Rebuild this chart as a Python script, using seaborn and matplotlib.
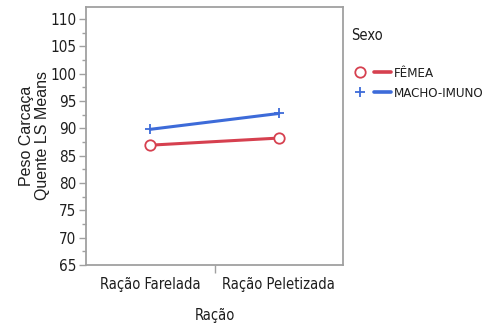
import pandas as pd
import numpy as np
import matplotlib
matplotlib.use('Agg')
import matplotlib.pyplot as plt
from matplotlib.lines import Line2D
from matplotlib.legend_handler import HandlerTuple
from matplotlib.ticker import MultipleLocator
import seaborn as sns

# data
racao = ['Ração Farelada', 'Ração Peletizada']
femea = [86.9, 88.2]
macho = [89.8, 92.7]
sexo = ['FÊMEA', 'MACHO-IMUNO']
cores = ['#d6404f', '#3d6bd9']

df = pd.DataFrame({
    'Ração': racao * 2,
    'LS': femea + macho,
    'Sexo': [sexo[0]] * 2 + [sexo[1]] * 2,
})

sns.set_theme(style='white')
plt.rcParams['font.family'] = ['DejaVu Sans']
plt.rcParams['font.stretch'] = 'condensed'
grey = '#a0a0a0'
ink = '#1e1e1e'

fig = plt.figure(figsize=(4.86, 3.29), dpi=100)
ax = fig.add_axes([0.177, 0.195, 0.529, 0.784])

sns.pointplot(data=df, x='Ração', y='LS', hue='Sexo', palette=cores,
              markers=['o', '+'], linestyles='-', errorbar=None,
              ax=ax, legend=False)
for ln in ax.lines:
    ln.set_linewidth(2.2)
    ln.set_markersize(7.5)
    ln.set_markeredgewidth(1.3)
    ln.set_markerfacecolor('white')

ax.set_xlim(-0.5, 1.5)
ax.set_ylim(65, 112.2)
ax.yaxis.set_major_locator(MultipleLocator(5))
ax.yaxis.set_minor_locator(MultipleLocator(2.5))
ax.set_yticks(np.arange(65, 111, 5))
ax.set_xticks([0, 1])
ax.set_xticklabels(racao)
ax.set_xticks([0.5], minor=True)

for s in ax.spines.values():
    s.set_color(grey)
    s.set_linewidth(1.3)
ax.tick_params(axis='y', which='major', left=True, length=5, width=1, color=grey,
               labelsize=11, labelcolor=ink, pad=2)
ax.tick_params(axis='y', which='minor', left=True, length=3, width=1, color=grey)
ax.tick_params(axis='x', which='major', bottom=False, labelsize=10.5,
               labelcolor=ink, pad=3)
ax.tick_params(axis='x', which='minor', bottom=True, length=6, width=1, color=grey)

ax.set_xlabel('Ração', fontsize=10.5, color=ink, labelpad=11)
ax.set_ylabel('Peso Carcaça\nQuente LS Means', fontsize=11.5, color=ink,
              family=['Liberation Sans', 'DejaVu Sans'], stretch='normal',
              linespacing=1.05)
ax.yaxis.set_label_coords(-0.14, 0.5)

# legend: marker then separate line segment
handles = []
for c, m in zip(cores, ['o', '+']):
    mk = Line2D([], [], color=c, marker=m, linestyle='none', markersize=7.5,
                markeredgewidth=1.3, markerfacecolor='white')
    lnh = Line2D([], [], color=c, linewidth=2.6)
    handles.append((mk, lnh))
leg = fig.legend(handles, sexo, title='Sexo', loc='upper left',
                 bbox_to_anchor=(0.712, 0.93), frameon=False,
                 handler_map={tuple: HandlerTuple(ndivide=None, pad=0.4)},
                 handlelength=3.0, handletextpad=0.2, fontsize=9.5,
                 title_fontsize=10.5, labelspacing=0.5, borderaxespad=0)
leg._legend_box.align = 'left'
leg._legend_box.sep = 17
leg.get_title().set_color(ink)
for t in leg.get_texts():
    t.set_color(ink)

fig.savefig('out.png', dpi=100)
